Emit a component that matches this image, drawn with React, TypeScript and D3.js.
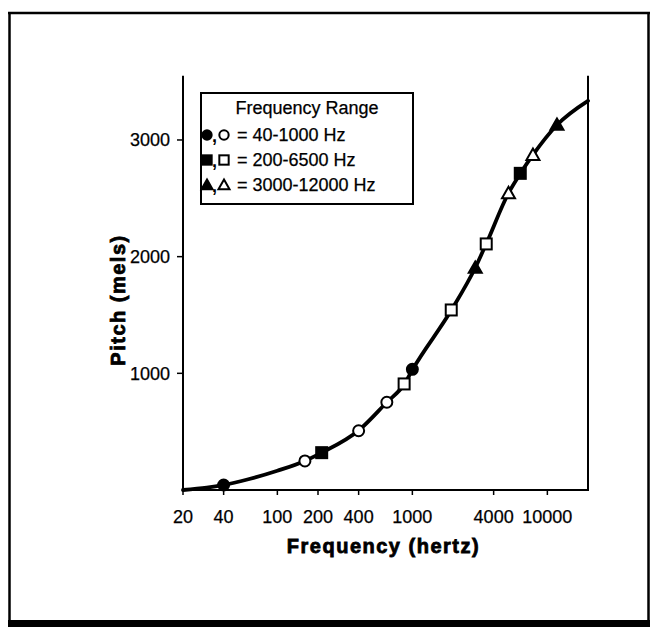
import React from 'react';
import * as d3 from 'd3';

// Smooth pitch curve (frequency in Hz, pitch in mels)
const curveFreq = [20, 30, 40, 60, 100, 160, 213, 400, 647, 869, 1000, 1941, 2923, 3525, 5155, 6300, 7820, 11780, 20000];
const curveMels = [0, 20, 43, 90, 165, 249, 320, 510, 752, 905, 1030, 1540, 1905, 2110, 2545, 2712, 2872, 3128, 3335];

// Data markers by frequency range
const filledCircleFreq = [40, 1000];
const filledCircleMels = [43, 1034];
const openCircleFreq = [160, 400, 647];
const openCircleMels = [249, 508, 752];
const filledSquareFreq = [213, 6300];
const filledSquareMels = [320, 2714];
const openSquareFreq = [869, 1941, 3525];
const openSquareMels = [909, 1543, 2109];
const filledTriFreq = [2923, 11780];
const filledTriMels = [1903, 3129];
const openTriFreq = [5155, 7820];
const openTriMels = [2543, 2871];

const xTicks = [20, 40, 100, 200, 400, 1000, 4000, 10000];
const yTicks = [1000, 2000, 3000];
const legendTitle = 'Frequency Range';
const legendLabels = ['= 40-1000 Hz', '= 200-6500 Hz', '= 3000-12000 Hz'];
const xTitle = 'Frequency (hertz)';
const yTitle = 'Pitch (mels)';

const FONT = '"Liberation Sans", Arial, Helvetica, sans-serif';

type Kind = 'circle' | 'square' | 'tri';

function Marker({ kind, filled, x, y, s = 1 }: { kind: Kind; filled: boolean; x: number; y: number; s?: number }) {
  const fill = filled ? '#000' : '#fff';
  const sw = 2;
  if (kind === 'circle') return <circle cx={x} cy={y} r={5.5 * s} fill={fill} stroke="#000" strokeWidth={sw} />;
  if (kind === 'square') {
    const h = 5.5 * s;
    return <rect x={x - h} y={y - h} width={2 * h} height={2 * h} fill={fill} stroke="#000" strokeWidth={sw} />;
  }
  const a = 6.5 * s;
  const p = `M${x},${y - a}L${x + a},${y + a * 0.75}L${x - a},${y + a * 0.75}Z`;
  return <path d={p} fill={fill} stroke="#000" strokeWidth={sw} strokeLinejoin="miter" />;
}

export default function App() {
  const x = d3.scaleLog().domain([20, 20000]).range([183, 588]);
  const y = d3.scaleLinear().domain([0, 3550]).range([490, 75.8]);

  const line = d3
    .line<number>()
    .x((_, i) => x(curveFreq[i]))
    .y((d) => y(d))
    .curve(d3.curveMonotoneX);

  const groups: { kind: Kind; filled: boolean; f: number[]; m: number[] }[] = [
    { kind: 'circle', filled: true, f: filledCircleFreq, m: filledCircleMels },
    { kind: 'circle', filled: false, f: openCircleFreq, m: openCircleMels },
    { kind: 'square', filled: true, f: filledSquareFreq, m: filledSquareMels },
    { kind: 'square', filled: false, f: openSquareFreq, m: openSquareMels },
    { kind: 'tri', filled: true, f: filledTriFreq, m: filledTriMels },
    { kind: 'tri', filled: false, f: openTriFreq, m: openTriMels },
  ];

  const [x0, x1] = x.range();
  const [y0, y1] = y.range();
  const kinds: Kind[] = ['circle', 'square', 'tri'];

  return (
    <svg
      width={650}
      height={630}
      style={{ position: 'absolute', left: 0, top: 0, display: 'block', background: '#fff' }}
      fontFamily={FONT}
    >
      {/* outer frame */}
      <line x1={9.5} y1={12} x2={9.5} y2={626} stroke="#000" strokeWidth={2.5} />
      <line x1={8} y1={13} x2={650} y2={13} stroke="#000" strokeWidth={2.5} />
      <line x1={648.5} y1={12} x2={648.5} y2={626} stroke="#000" strokeWidth={2.5} />
      <rect x={8} y={620} width={642} height={7} fill="#000" />

      {/* axes */}
      <line x1={x0} y1={y1} x2={x0} y2={y0 + 1} stroke="#000" strokeWidth={2} />
      <line x1={x0 - 1} y1={y0} x2={x1 + 1} y2={y0} stroke="#000" strokeWidth={2} />
      <line x1={x1} y1={y1} x2={x1} y2={y0 + 1} stroke="#000" strokeWidth={2} />

      {yTicks.map((t) => (
        <g key={t}>
          <line x1={x0 - 6} x2={x0} y1={y(t)} y2={y(t)} stroke="#000" strokeWidth={1.5} />
          <text x={x0 - 13} y={y(t)} dy="0.35em" textAnchor="end" fontSize={18} stroke="#000" strokeWidth={0.25}>
            {t}
          </text>
        </g>
      ))}
      {xTicks.map((t) => (
        <g key={t}>
          <line x1={x(t)} x2={x(t)} y1={y0} y2={y0 + 5} stroke="#000" strokeWidth={1.5} />
          <text x={x(t)} y={y0 + 27} dy="0.35em" textAnchor="middle" fontSize={18} stroke="#000" strokeWidth={0.25}>
            {t}
          </text>
        </g>
      ))}

      <text
        x={(x0 + x1) / 2 - 2}
        y={546}
        dy="0.35em"
        textAnchor="middle"
        fontSize={20}
        fontWeight="bold"
        letterSpacing={1.5}
        stroke="#000"
        strokeWidth={0.8}
      >
        {xTitle}
      </text>
      <text
        transform={`translate(118,${300}) rotate(-90)`}
        dy="0.35em"
        textAnchor="middle"
        fontSize={20}
        fontWeight="bold"
        letterSpacing={1.5}
        stroke="#000"
        strokeWidth={0.8}
      >
        {yTitle}
      </text>

      {/* curve */}
      <path d={line(curveMels) || ''} fill="none" stroke="#000" strokeWidth={3.8} strokeLinejoin="round" strokeLinecap="round" />

      {/* markers */}
      {groups.map((g, gi) =>
        g.f.map((f, i) => <Marker key={`${gi}-${i}`} kind={g.kind} filled={g.filled} x={x(f)} y={y(g.m[i])} />)
      )}

      {/* legend */}
      <rect x={201} y={93} width={212} height={111} fill="#fff" stroke="#000" strokeWidth={2} />
      <text x={307} y={108} dy="0.35em" textAnchor="middle" fontSize={18} stroke="#000" strokeWidth={0.25}>
        {legendTitle}
      </text>
      {legendLabels.map((lab, i) => {
        const cy = 135 + i * 25;
        return (
          <g key={lab}>
            <Marker kind={kinds[i]} filled={true} x={207} y={cy} s={0.85} />
            <text x={212} y={cy + 7} fontSize={18} fontWeight="bold">
              ,
            </text>
            <Marker kind={kinds[i]} filled={false} x={224} y={cy} s={0.85} />
            <text x={237} y={cy} dy="0.35em" fontSize={18} stroke="#000" strokeWidth={0.25}>
              {lab}
            </text>
          </g>
        );
      })}
    </svg>
  );
}
